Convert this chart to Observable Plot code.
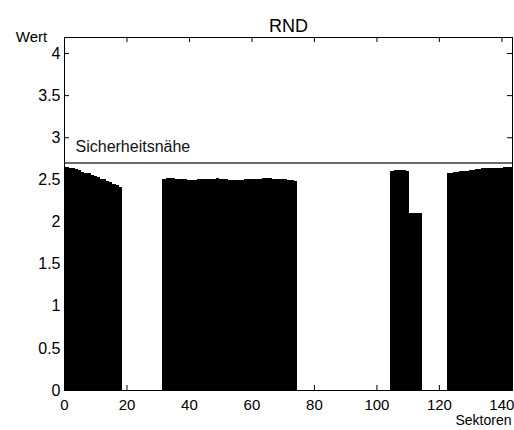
<!DOCTYPE html>
<html>
<head>
<meta charset="utf-8">
<script src="https://cdn.jsdelivr.net/npm/d3@7"></script>
<script src="https://cdn.jsdelivr.net/npm/@observablehq/plot@0.6"></script>
<style>
  html, body { margin: 0; padding: 0; background: #fff; }
  #chart svg { display: block; }
</style>
</head>
<body>
<div id="chart"></div>
<script>
const titleText = "RND";
const yLabel = "Wert";
const xLabel = "Sektoren";
const thresholdLabel = "Sicherheitsnähe";
const threshold = 2.7;

const xTicks = [0, 20, 40, 60, 80, 100, 120, 140];
const yTicks = [0, 0.5, 1, 1.5, 2, 2.5, 3, 3.5, 4];

const startA = 0;
const valuesA = [2.65, 2.65, 2.64, 2.63, 2.62, 2.61, 2.59, 2.58, 2.57, 2.55, 2.54, 2.53, 2.51, 2.50, 2.48, 2.47, 2.45, 2.43, 2.41];
const startB = 32;
const valuesB = [2.51, 2.52, 2.52, 2.52, 2.51, 2.51, 2.50, 2.50, 2.49, 2.49,
                 2.49, 2.50, 2.50, 2.50, 2.50, 2.51, 2.51, 2.52, 2.51, 2.50,
                 2.50, 2.49, 2.49, 2.49, 2.49, 2.49, 2.50, 2.50, 2.50, 2.50,
                 2.51, 2.51, 2.52, 2.52, 2.52, 2.51, 2.50, 2.50, 2.50, 2.50,
                 2.49, 2.49, 2.48];
const startC = 105;
const valuesC = [2.60, 2.61, 2.61, 2.61, 2.61, 2.60, 2.10, 2.10, 2.10, 2.10];
const startD = 123;
const valuesD = [2.58, 2.58, 2.59, 2.59, 2.60, 2.60, 2.60, 2.61, 2.61, 2.62,
                 2.62, 2.63, 2.63, 2.64, 2.64, 2.64, 2.64, 2.64, 2.65, 2.65, 2.65];

const blocks = [[startA, valuesA], [startB, valuesB], [startC, valuesC], [startD, valuesD]];
const data = blocks.flatMap(([s, vals]) => vals.map((v, i) => ({sector: s + i, value: v})));

const W = 514, H = 430;
const mL = 64, mR = 2, mT = 37, mB = 40;
const innerW = W - mL - mR, innerH = H - mT - mB;
const tickLen = 5;
const font = "'Liberation Sans', Arial, Helvetica, sans-serif";
const fmt = d => String(d);

const chart = Plot.plot({
  width: W,
  height: H,
  marginLeft: mL,
  marginRight: mR,
  marginTop: mT,
  marginBottom: mB,
  style: {fontFamily: font, fontSize: "15px", color: "#000", background: "#fff"},
  x: {domain: [0, 143.4], ticks: xTicks},
  y: {domain: [0, 4.19], ticks: yTicks},
  marks: [
    Plot.rectY(data, {
      x1: d => d.sector - 0.5,
      x2: d => d.sector + 0.5,
      y: "value",
      fill: "black",
      inset: 0,
      clip: true,
      shapeRendering: "crispEdges"
    }),
    Plot.ruleY([threshold], {stroke: "#3a3a3a", strokeWidth: 1.5}),
    Plot.text([thresholdLabel], {
      text: d => d, y: () => threshold, frameAnchor: "left",
      textAnchor: "start", dx: 11, dy: -16, fontSize: 16, fill: "#111"
    }),
    // inward ticks on all four sides
    Plot.tickX(xTicks, {x: d => d, insetTop: innerH - tickLen, stroke: "black"}),
    Plot.tickX(xTicks, {x: d => d, insetBottom: innerH - tickLen, stroke: "black"}),
    Plot.tickY(yTicks, {y: d => d, insetRight: innerW - tickLen, stroke: "black"}),
    Plot.tickY(yTicks, {y: d => d, insetLeft: innerW - tickLen, stroke: "black"}),
    Plot.axisX({ticks: xTicks, tickFormat: fmt, tickSize: 0, tickPadding: 9, fontSize: 15, label: null}),
    Plot.axisY({ticks: yTicks, tickFormat: fmt, tickSize: 0, tickPadding: 4, fontSize: 16, label: null}),
    Plot.frame({stroke: "black", strokeWidth: 1}),
    Plot.text([titleText], {text: d => d, frameAnchor: "top", textAnchor: "middle", dy: -18, fontSize: 18}),
    Plot.text([yLabel], {text: d => d, frameAnchor: "top-left", textAnchor: "middle", dx: -33, dy: -6, fontSize: 15}),
    Plot.text([xLabel], {text: d => d, frameAnchor: "bottom-right", textAnchor: "end", dx: -1, dy: 34, fontSize: 14})
  ]
});

document.getElementById("chart").appendChild(chart);
</script>
</body>
</html>
